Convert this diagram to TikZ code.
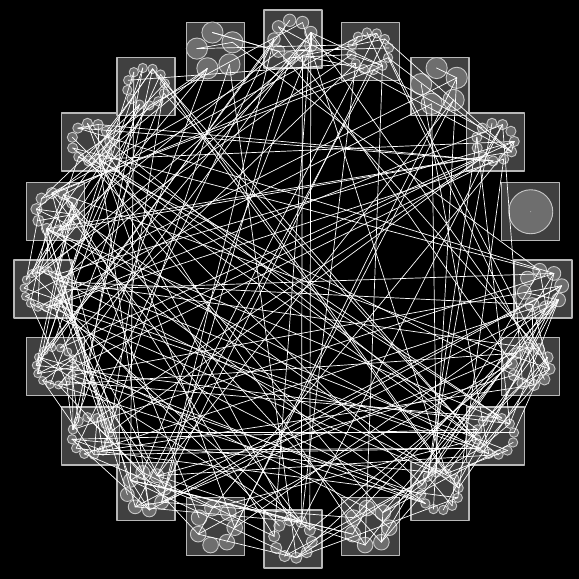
\documentclass[tikz,border=0pt]{standalone}
\usepackage{tikz}
\definecolor{boxgray}{HTML}{404040}
\definecolor{boxline}{HTML}{B8B8B8}
\definecolor{dotgray}{HTML}{6E6E6E}
\definecolor{dotline}{HTML}{C8C8C8}
\tikzset{
  every picture/.style={line join=round, line cap=round},
  cluster/.style={fill=boxgray, draw=boxline, line width=1.2pt},
  member/.style={circle, fill=dotgray, draw=dotline, line width=0.9pt, inner sep=0pt},
  link/.style={white, line width=0.7pt},
}
\begin{document}
\begin{tikzpicture}[x=1pt,y=1pt]
\useasboundingbox (-293,-290) rectangle (286,289);
\fill[black] (-293,-290) rectangle (286,289);
\def\sizes{{9,12,5,11,1,8,10,12,12,7,10,7,8,12,14,14,10,11,12,5}}
\def\offs{{0,9,21,26,37,38,46,56,68,80,87,97,104,112,124,138,152,162,173,185}}
% boxes with their members
\foreach \k in {0,...,19}{
  \pgfmathtruncatemacro{\n}{\sizes[\k]}
  \pgfmathsetmacro{\rr}{\n==1 ? 0 : 19}
  \pgfmathsetmacro{\d}{\n==1 ? 44 : 36*sin(180/\n)}
  \coordinate (b\k) at ({90-18*\k}:250);
  \begin{scope}[shift={(b\k)}]
    \draw[cluster] (-29,-29) rectangle (29,29);
    \foreach \i in {1,...,\n}{
      \pgfmathtruncatemacro{\u}{\offs[\k]+\i}
      \node[member, minimum size=\d pt] (u\u) at ({100+360*\i/\n}:\rr) {};
    }
  \end{scope}
}
% links across the ring
\pgfmathsetseed{11}
\foreach \e in {1,...,245}{
  \pgfmathtruncatemacro{\p}{random(1,190)}
  \pgfmathtruncatemacro{\q}{random(1,190)}
  \draw[link] (u\p.center) -- (u\q.center);
}
% links inside a box
\foreach \e in {1,...,45}{
  \pgfmathtruncatemacro{\k}{random(0,19)}
  \pgfmathtruncatemacro{\p}{\offs[\k]+random(1,\sizes[\k])}
  \pgfmathtruncatemacro{\q}{\offs[\k]+random(1,\sizes[\k])}
  \draw[link] (u\p.center) -- (u\q.center);
}
\end{tikzpicture}
\end{document}
